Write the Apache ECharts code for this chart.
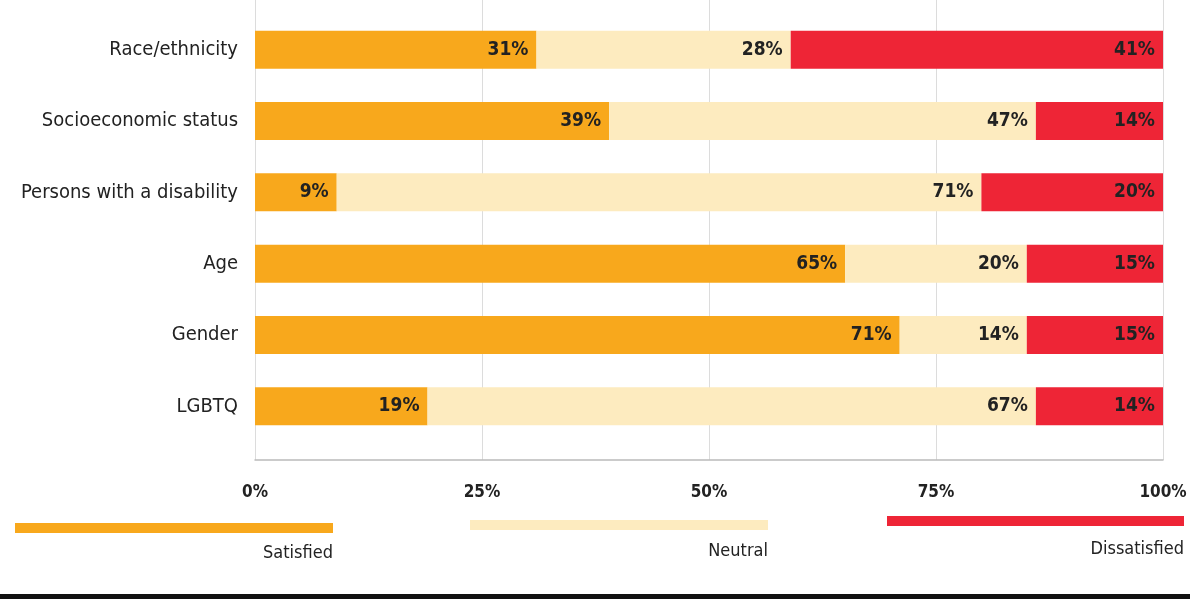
<!DOCTYPE html>
<html>
<head>
<meta charset="utf-8">
<script src="https://cdn.jsdelivr.net/npm/echarts@6/dist/echarts.min.js"></script>
<style>
html,body{margin:0;padding:0;background:#fff;}
#chart{width:1190px;height:599px;}
</style>
</head>
<body>
<div id="chart"></div>
<script>
const categories = ['Race/ethnicity', 'Socioeconomic status', 'Persons with a disability', 'Age', 'Gender', 'LGBTQ'];
const seriesNames = ['Satisfied', 'Neutral', 'Dissatisfied'];
const satisfied = [31, 39, 9, 65, 71, 19];
const neutral = [28, 47, 71, 20, 14, 67];
const dissatisfied = [41, 14, 20, 15, 15, 14];
const xTicks = [0, 25, 50, 75, 100];

const colors = ['#F8A81C', '#FDEBBF', '#EE2536'];
const FONT = '"Liberation Sans Narrow", "DejaVu Sans Condensed", Roboto, sans-serif';

const chart = echarts.init(document.getElementById('chart'));

function mkSeries(name, data, color) {
  return {
    name: name,
    type: 'bar',
    stack: 'total',
    xAxisIndex: 0,
    yAxisIndex: 0,
    barWidth: 38,
    data: data,
    itemStyle: { color: color },
    label: {
      show: true,
      position: 'insideRight',
      distance: 8,
      formatter: '{c}%',
      color: '#222',
      fontFamily: FONT,
      fontWeight: 'bold',
      fontSize: 19
    }
  };
}

const legendGraphics = [];
const legendLayout = [
  { x1: 15, x2: 333, y: 528, ty: 553 },
  { x1: 470, x2: 768, y: 525, ty: 551 },
  { x1: 887, x2: 1184, y: 521, ty: 549 }
];
seriesNames.forEach((n, i) => {
  const L = legendLayout[i];
  legendGraphics.push({
    type: 'rect',
    shape: { x: L.x1, y: L.y - 5, width: L.x2 - L.x1, height: 10 },
    style: { fill: colors[i] }
  });
  legendGraphics.push({
    type: 'text',
    x: L.x2, y: L.ty,
    style: {
      text: n, fill: '#222', font: '18px ' + FONT,
      textAlign: 'right', textVerticalAlign: 'middle'
    }
  });
});
legendGraphics.push({
  type: 'rect',
  shape: { x: 0, y: 594, width: 1190, height: 5 },
  style: { fill: '#111' }
});

chart.setOption({
  animation: false,
  backgroundColor: '#fff',
  grid: [
    { left: 255, right: 27, top: 14, height: 428 },
    { left: 255, right: 27, top: 0, height: 460 }
  ],
  xAxis: [
    { type: 'value', gridIndex: 0, min: 0, max: 100, show: false },
    {
      type: 'value', gridIndex: 1, min: 0, max: 100, interval: 25,
      axisLine: { show: true, lineStyle: { color: '#bbb', width: 1.5 } },
      axisTick: { show: false },
      splitLine: { show: true, lineStyle: { color: '#dcdcdc', width: 1 } },
      axisLabel: {
        margin: 24, formatter: '{value}%', color: '#222',
        fontFamily: FONT, fontSize: 17, fontWeight: 'bold'
      }
    }
  ],
  yAxis: [
    {
      type: 'category', gridIndex: 0, inverse: true, data: categories,
      axisLine: { show: false }, axisTick: { show: false },
      axisLabel: { margin: 17, color: '#222', fontFamily: FONT, fontSize: 20 }
    },
    { type: 'value', gridIndex: 1, show: false }
  ],
  series: [
    mkSeries(seriesNames[0], satisfied, colors[0]),
    mkSeries(seriesNames[1], neutral, colors[1]),
    mkSeries(seriesNames[2], dissatisfied, colors[2])
  ],
  graphic: legendGraphics
});
</script>
</body>
</html>
